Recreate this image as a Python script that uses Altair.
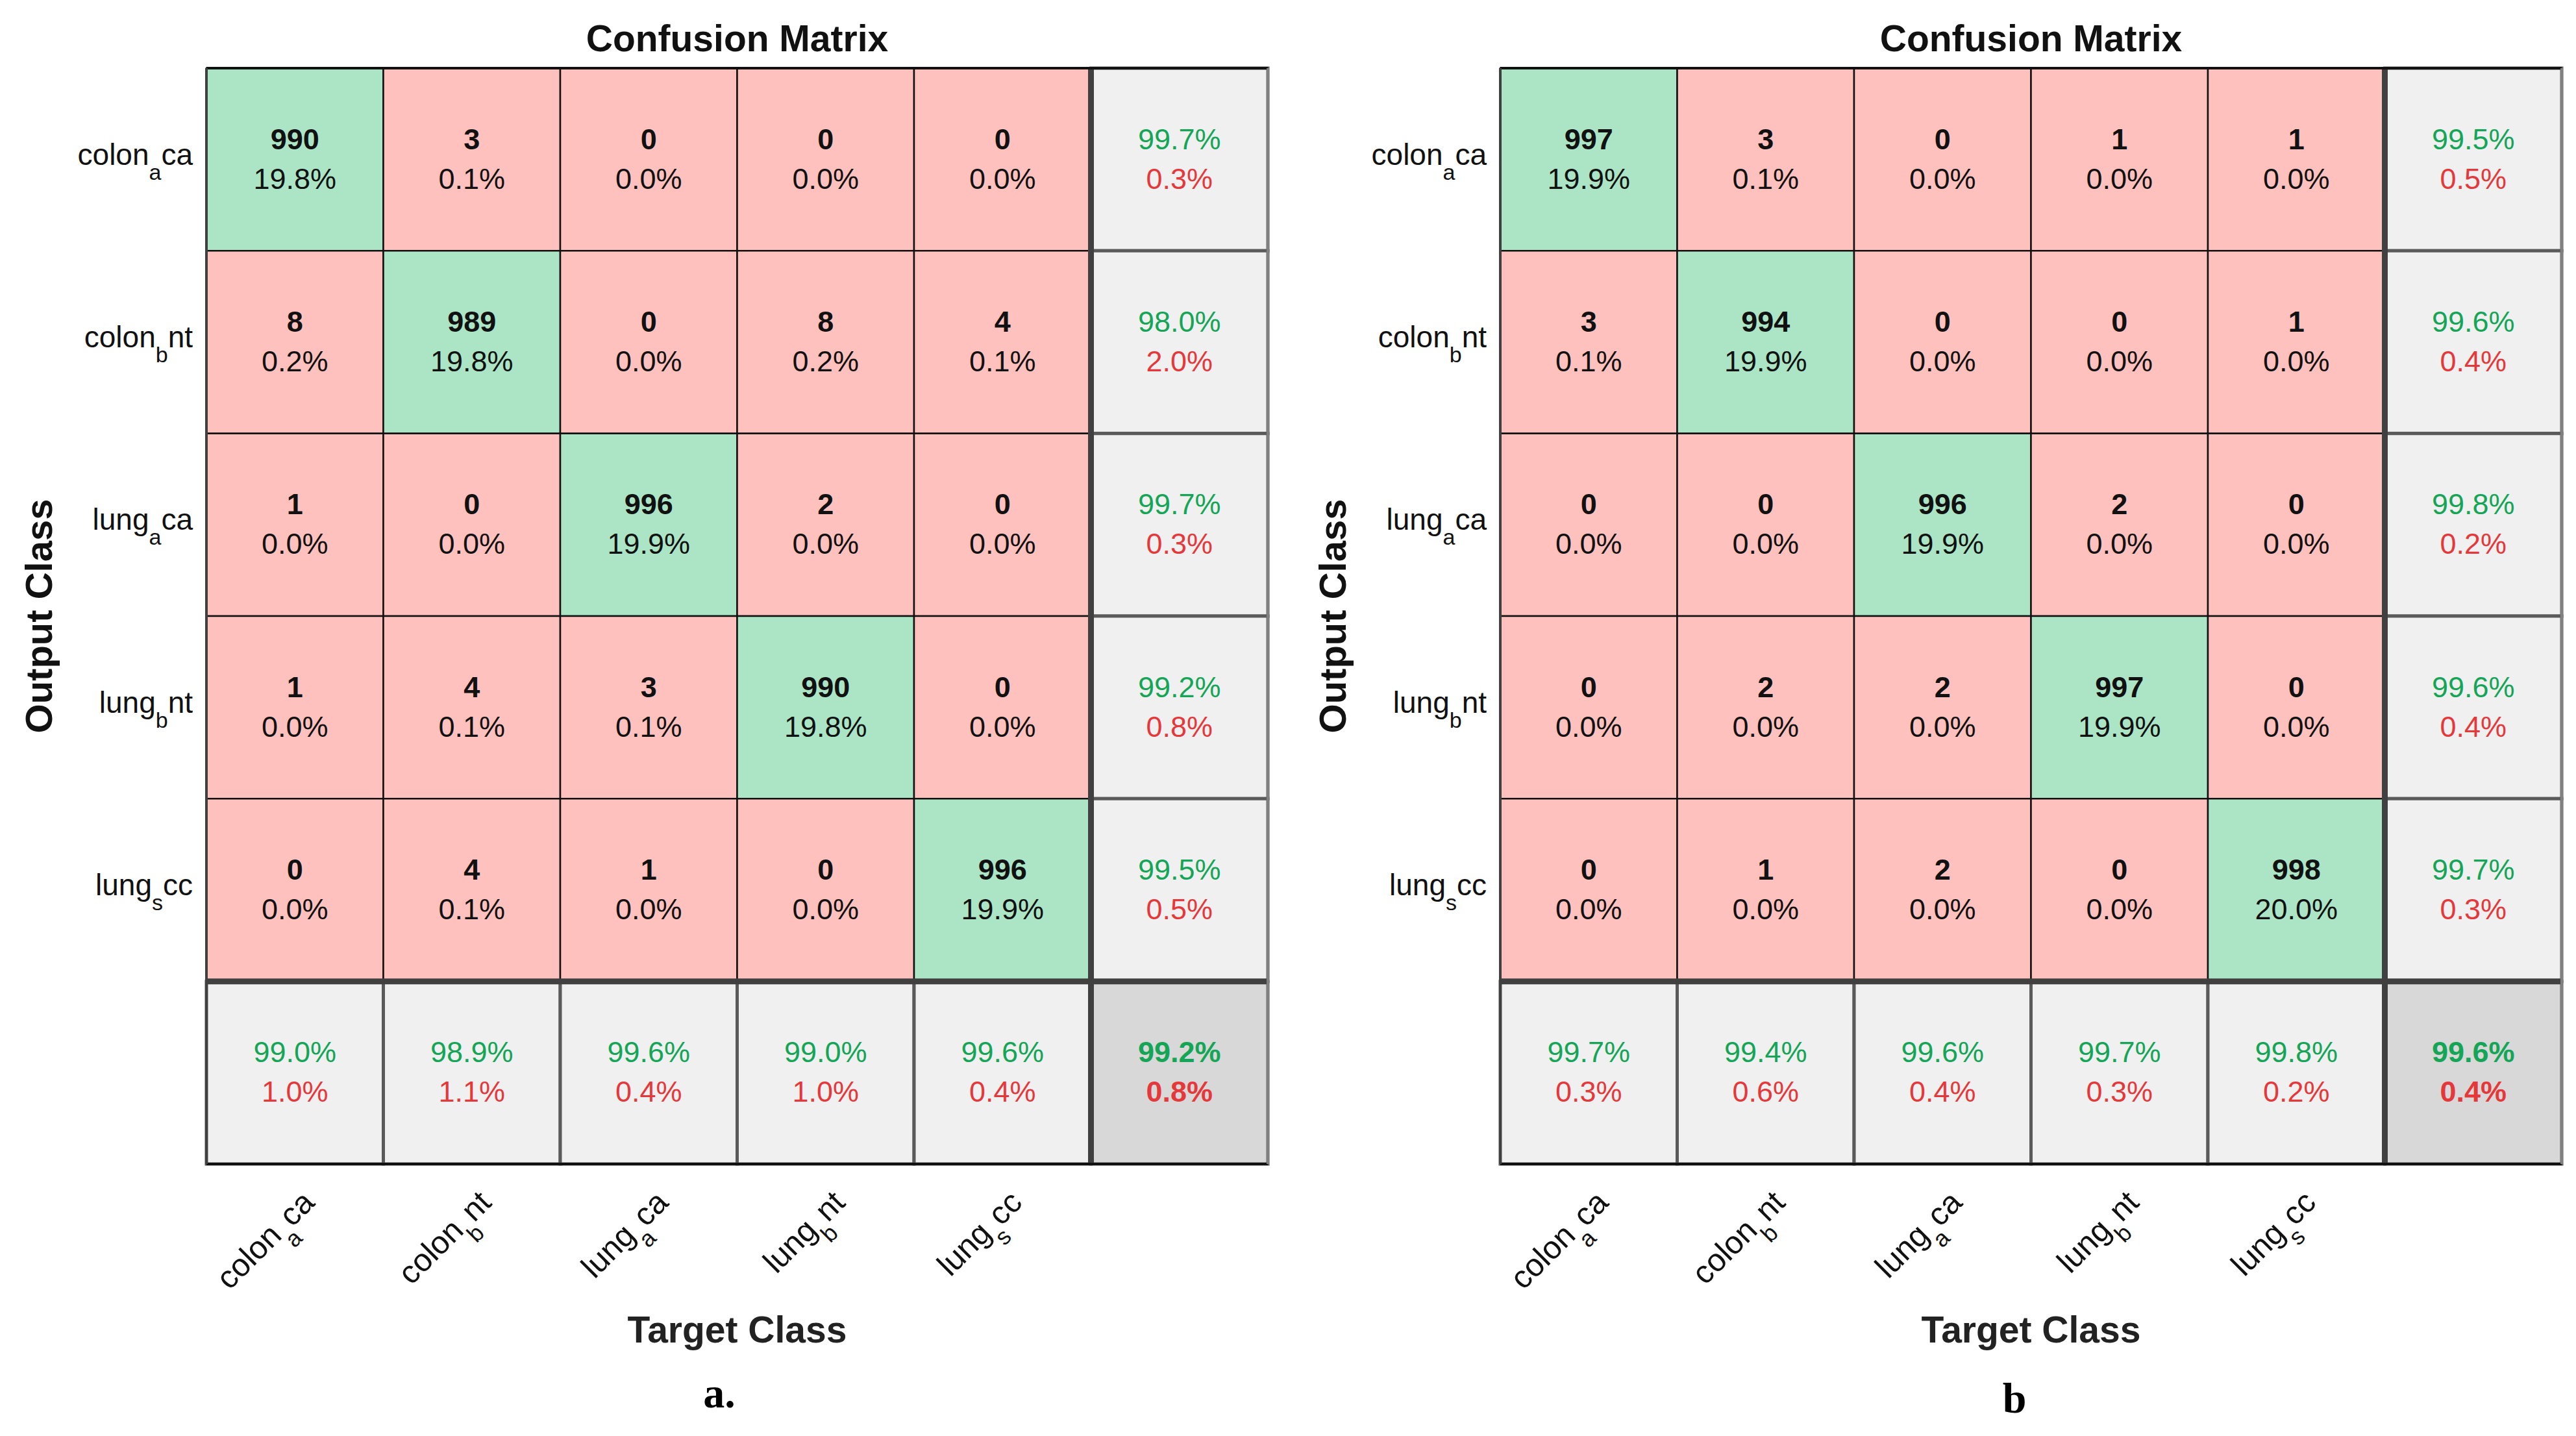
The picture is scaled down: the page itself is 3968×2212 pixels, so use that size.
import altair as alt
import pandas as pd

# ---------------- data ----------------
CLASSES = ["colon_aca", "colon_bnt", "lung_aca", "lung_bnt", "lung_scc"]
LBL_BASE = ["colon", "colon", "lung", "lung", "lung"]
LBL_SUB = ["a", "b", "a", "b", "s"]
LBL_TAIL = ["ca", "nt", "ca", "nt", "cc"]
ALL = "all"

COUNTS_A = [
    [990, 3, 0, 0, 0],
    [8, 989, 0, 8, 4],
    [1, 0, 996, 2, 0],
    [1, 4, 3, 990, 0],
    [0, 4, 1, 0, 996],
]
ROW_GOOD_A = ["99.7%", "98.0%", "99.7%", "99.2%", "99.5%"]
ROW_BAD_A = ["0.3%", "2.0%", "0.3%", "0.8%", "0.5%"]
COL_GOOD_A = ["99.0%", "98.9%", "99.6%", "99.0%", "99.6%"]
COL_BAD_A = ["1.0%", "1.1%", "0.4%", "1.0%", "0.4%"]
OVERALL_A = ["99.2%", "0.8%"]

COUNTS_B = [
    [997, 3, 0, 1, 1],
    [3, 994, 0, 0, 1],
    [0, 0, 996, 2, 0],
    [0, 2, 2, 997, 0],
    [0, 1, 2, 0, 998],
]
ROW_GOOD_B = ["99.5%", "99.6%", "99.8%", "99.6%", "99.7%"]
ROW_BAD_B = ["0.5%", "0.4%", "0.2%", "0.4%", "0.3%"]
COL_GOOD_B = ["99.7%", "99.4%", "99.6%", "99.7%", "99.8%"]
COL_BAD_B = ["0.3%", "0.6%", "0.4%", "0.3%", "0.2%"]
OVERALL_B = ["99.6%", "0.4%"]

# ---------------- style ----------------
W, H = 1635, 1688
FONT = "Liberation Sans"
SERIF = "Liberation Serif"
GREEN_TXT = "#14A556"
RED_TXT = "#E5383B"
FILL_DOMAIN = ["diag", "off", "sum", "total"]
FILL_RANGE = ["#ABE5C5", "#FFC1BE", "#F0F0F0", "#D8D8D8"]
FS = 45        # cell font size
FS_Y = 46      # y tick label size
FS_YSUB = 34
FS_X = 49      # x tick label size
FS_XSUB = 36

ADV = {"a": 556, "b": 556, "c": 500, "n": 556, "t": 278, "s": 500,
       "o": 556, "l": 222, "u": 556, "g": 556}


def adv(s, fs):
    return sum(ADV[ch] for ch in s) * fs / 1000.0


DOM = CLASSES + [ALL]


def xenc(**kw):
    return alt.X("col:N", scale=alt.Scale(domain=DOM, paddingInner=0, paddingOuter=0),
                 axis=None, **kw)


def yenc(**kw):
    return alt.Y("row:N", scale=alt.Scale(domain=DOM, paddingInner=0, paddingOuter=0),
                 axis=None, **kw)


def panel(counts, rg, rb, cg, cb, overall, tag, tag_x, tag_y):
    total = sum(sum(r) for r in counts)
    recs = []
    for i, rname in enumerate(CLASSES):
        for j, cname in enumerate(CLASSES):
            c = counts[i][j]
            recs.append(dict(row=rname, col=cname, kind="diag" if i == j else "off",
                             top=str(c), bot=f"{100 * c / total:.1f}%",
                             tc="#111111", bc="#111111"))
        recs.append(dict(row=rname, col=ALL, kind="sum", top=rg[i], bot=rb[i],
                         tc=GREEN_TXT, bc=RED_TXT))
    for j, cname in enumerate(CLASSES):
        recs.append(dict(row=ALL, col=cname, kind="sum", top=cg[j], bot=cb[j],
                         tc=GREEN_TXT, bc=RED_TXT))
    recs.append(dict(row=ALL, col=ALL, kind="total", top=overall[0], bot=overall[1],
                     tc=GREEN_TXT, bc=RED_TXT))
    df = pd.DataFrame(recs)

    color = alt.Color("kind:N", scale=alt.Scale(domain=FILL_DOMAIN, range=FILL_RANGE),
                      legend=None)
    base = alt.Chart(df).encode(x=xenc(), y=yenc())
    is_mat = "datum.kind == 'diag' || datum.kind == 'off'"
    is_sum = "datum.kind == 'sum'"
    is_tot = "datum.kind == 'total'"

    layers = []
    layers.append(base.transform_filter(is_sum + " || " + is_tot)
                  .mark_rect(stroke="#5a5a5a", strokeWidth=5).encode(color=color))
    layers.append(base.transform_filter(is_mat)
                  .mark_rect(stroke="#111111", strokeWidth=2.5).encode(color=color))

    sep = pd.DataFrame({"col": [ALL], "row": [ALL]})
    layers.append(alt.Chart(sep).mark_rule(color="#404040", strokeWidth=9)
                  .encode(x=xenc(bandPosition=0), y=alt.value(0), y2=alt.value(H)))
    layers.append(alt.Chart(sep).mark_rule(color="#404040", strokeWidth=9)
                  .encode(y=yenc(bandPosition=0), x=alt.value(0), x2=alt.value(W)))
    # outer frame
    layers.append(alt.Chart(sep).mark_rule(color="#111111", strokeWidth=4)
                  .encode(y=alt.value(0), x=alt.value(0), x2=alt.value(W)))
    layers.append(alt.Chart(sep).mark_rule(color="#111111", strokeWidth=4)
                  .encode(y=alt.value(H), x=alt.value(0), x2=alt.value(W)))
    layers.append(alt.Chart(sep).mark_rule(color="#404040", strokeWidth=4)
                  .encode(x=alt.value(0), y=alt.value(0), y2=alt.value(H)))
    layers.append(alt.Chart(sep).mark_rule(color="#808080", strokeWidth=4)
                  .encode(x=alt.value(W), y=alt.value(0), y2=alt.value(H)))

    tcol = alt.Color("tc:N", scale=None)
    bcol = alt.Color("bc:N", scale=None)
    for flt, weight in ((is_mat, "bold"), (is_sum, "normal"), (is_tot, "bold")):
        layers.append(base.transform_filter(flt)
                      .mark_text(font=FONT, fontSize=FS, fontWeight=weight, dy=-30,
                                 baseline="middle")
                      .encode(text="top:N", color=tcol))
        layers.append(base.transform_filter(flt)
                      .mark_text(font=FONT, fontSize=FS,
                                 fontWeight="bold" if flt == is_tot else "normal",
                                 dy=31, baseline="middle")
                      .encode(text="bot:N", color=bcol))

    # tick labels with subscripts
    for i, cls in enumerate(CLASSES):
        lab = pd.DataFrame({"row": [cls], "col": [cls], "base": [LBL_BASE[i]],
                            "sub": [LBL_SUB[i]], "tail": [LBL_TAIL[i]]})
        lc = alt.Chart(lab)
        # y-axis labels
        wt = adv(LBL_TAIL[i], FS_Y)
        ws = adv(LBL_SUB[i], FS_YSUB)
        layers.append(lc.mark_text(font=FONT, fontSize=FS_Y, align="right", baseline="alphabetic",
                                   dy=8, color="#111111")
                      .encode(y=yenc(), x=alt.value(-21), text="tail:N"))
        layers.append(lc.mark_text(font=FONT, fontSize=FS_YSUB, align="right", baseline="alphabetic",
                                   dx=-wt, dy=31, color="#111111")
                      .encode(y=yenc(), x=alt.value(-21), text="sub:N"))
        layers.append(lc.mark_text(font=FONT, fontSize=FS_Y, align="right", baseline="alphabetic",
                                   dx=-(wt + ws), dy=8, color="#111111")
                      .encode(y=yenc(), x=alt.value(-21), text="base:N"))
        # x-axis labels (rotated)
        wt = adv(LBL_TAIL[i], FS_X)
        ws = adv(LBL_SUB[i], FS_XSUB)
        layers.append(lc.mark_text(font=FONT, fontSize=FS_X, align="right", baseline="alphabetic",
                                   angle=315, color="#111111")
                      .encode(x=xenc(bandPosition=0.62), y=alt.value(H + 62), text="tail:N"))
        layers.append(lc.mark_text(font=FONT, fontSize=FS_XSUB, align="right", baseline="alphabetic",
                                   angle=315, dx=-wt, dy=25, color="#111111")
                      .encode(x=xenc(bandPosition=0.62), y=alt.value(H + 62), text="sub:N"))
        layers.append(lc.mark_text(font=FONT, fontSize=FS_X, align="right", baseline="alphabetic",
                                   angle=315, dx=-(wt + ws), color="#111111")
                      .encode(x=xenc(bandPosition=0.62), y=alt.value(H + 62), text="base:N"))

    txt = pd.DataFrame({"title": ["Confusion Matrix"], "ylab": ["Output Class"],
                        "xlab": ["Target Class"], "tag": [tag]})
    tc = alt.Chart(txt)
    layers.append(tc.mark_text(font=FONT, fontSize=57, fontWeight="bold", baseline="middle",
                               color="#111111")
                  .encode(x=alt.value(W / 2), y=alt.value(-43), text="title:N"))
    layers.append(tc.mark_text(font=FONT, fontSize=58, fontWeight="bold", baseline="middle",
                               angle=270, color="#111111")
                  .encode(x=alt.value(-255), y=alt.value(H / 2), text="ylab:N"))
    layers.append(tc.mark_text(font=FONT, fontSize=57, fontWeight="bold", baseline="middle",
                               color="#222222")
                  .encode(x=alt.value(W / 2), y=alt.value(H + 258), text="xlab:N"))
    layers.append(tc.mark_text(font=SERIF, fontSize=66, fontWeight="bold", baseline="alphabetic",
                               color="#000000")
                  .encode(x=alt.value(tag_x), y=alt.value(tag_y), text="tag:N"))

    return alt.layer(*layers).properties(width=W, height=H)


left = panel(COUNTS_A, ROW_GOOD_A, ROW_BAD_A, COL_GOOD_A, COL_BAD_A, OVERALL_A,
             "a.", 790, H + 375)
right = panel(COUNTS_B, ROW_GOOD_B, ROW_BAD_B, COL_GOOD_B, COL_BAD_B, OVERALL_B,
              "b", 792, H + 383)

chart = (alt.hconcat(left, right, spacing=69)
         .properties(padding={"left": 26, "top": 25, "right": 5, "bottom": 5},
                     background="white")
         .configure_view(stroke=None))

chart.save("out.html", embed_options={"renderer": "svg", "actions": False})
